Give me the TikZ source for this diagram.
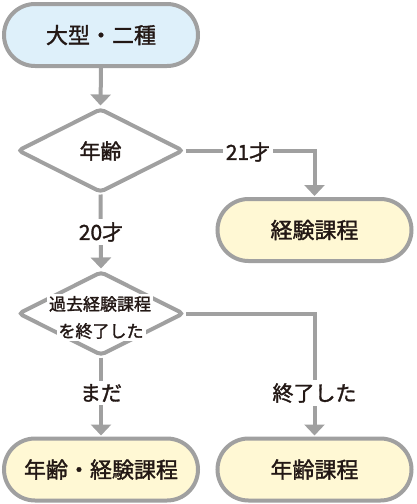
\documentclass[tikz,border=0pt]{standalone}
\usepackage{fontspec}
\newfontfamily\jp[FakeBold=1.5]{Noto Sans CJK JP}
\usetikzlibrary{arrows.meta,shapes.geometric}
\definecolor{bordergray}{HTML}{A0A0A0}
\definecolor{bluefill}{HTML}{DEF0FA}
\definecolor{yellowfill}{HTML}{FFF8D4}
\definecolor{textdark}{HTML}{231815}
\tikzset{
  term/.style={draw=bordergray, line width=4pt, rounded corners=31pt,
    minimum width=194pt, minimum height=62pt, inner sep=0pt,
    font=\jp\fontsize{22}{26}\selectfont, text=textdark},
  decision/.style={draw=bordergray, line width=4pt, shape=diamond,
    rounded corners=4pt, minimum width=166pt, minimum height=84pt,
    inner sep=0pt, fill=white},
  conn/.style={draw=bordergray, line width=4pt,
    -{Triangle[width=20pt,length=11pt]}, shorten >=1pt},
  lab/.style={fill=white, inner sep=3pt, text=textdark,
    font=\jp\fontsize{21}{24}\selectfont},
  dtext/.style={fill=white, inner sep=2pt, text=textdark,
    font=\jp\fontsize{17}{20}\selectfont},
}
\begin{document}
\begin{tikzpicture}[x=1pt,y=-1pt]
\useasboundingbox (0,0) rectangle (417,504);
\node[term, fill=bluefill] (t0) at (101,35) {大型・二種};
\node[decision] (d1) at (100.5,150.5) {};
\node[term, fill=yellowfill] (r1) at (314.5,230) {経験課程};
\node[decision] (d2) at (101,313.5) {};
\node[term, fill=yellowfill] (b1) at (101,469.5) {年齢・経験課程};
\node[term, fill=yellowfill] (b2) at (314.5,469.5) {年齢課程};
\node[text=textdark, font=\jp\fontsize{21}{24}\selectfont] (d1t) at (100.5,151) {年齢};

\draw[conn] (t0.south) -- (d1.north);
\draw[conn] (d1.east) -| (r1.north);
\draw[conn] (d1.south) -- (d2.north);
\draw[conn] (d2.east) -| (b2.north);
\draw[conn] (d2.south) -- (b1.north);

\node[lab] (l21) at (248,152) {21才};
\node[lab] (l20) at (101,232) {20才};
\node[lab] (lmada) at (101,393) {まだ};
\node[lab] (lend) at (314.5,393) {終了した};
\node[dtext] (d2a) at (100,304) {過去経験課程};
\node[dtext] (d2b) at (101,331) {を終了した};
\end{tikzpicture}
\end{document}
